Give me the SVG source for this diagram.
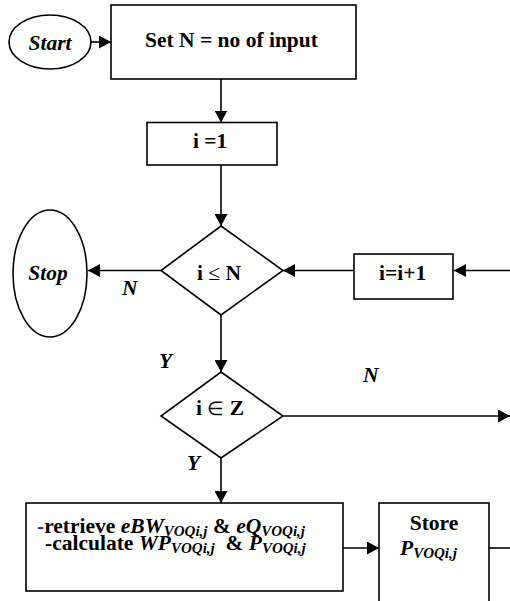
<svg xmlns="http://www.w3.org/2000/svg" width="510" height="601" viewBox="0 0 510 601">
  <style>
    .shape { fill: #ffffff; stroke: #000000; stroke-width: 1.6; }
    .edge { fill: none; stroke: #000000; stroke-width: 1.6; }
    text { font-family: "Liberation Serif", "Times New Roman", serif; font-weight: bold; font-size: 21.5px; fill: #000000; white-space: pre; }
    .it { font-style: italic; }
    .sub { font-style: italic; font-size: 15px; }
    .sym { font-weight: normal; }
    .small { font-size: 19px; }
  </style>
  <defs>
    <marker id="arrow" markerUnits="userSpaceOnUse" markerWidth="13" markerHeight="13" refX="12" refY="6.5" orient="auto">
      <path d="M0,0 L12,6.5 L0,13 z" fill="#000000"/>
    </marker>
  </defs>

  <rect width="510" height="601" fill="#ffffff"/>

  <!-- connectors and their branch labels -->
  <g id="connectors">
    <line class="edge" x1="91" y1="42" x2="111" y2="42" marker-end="url(#arrow)"/>
    <line class="edge" x1="221" y1="79" x2="221" y2="122.5" marker-end="url(#arrow)"/>
    <line class="edge" x1="221" y1="165" x2="221" y2="226" marker-end="url(#arrow)"/>
    <line class="edge" x1="161" y1="270.5" x2="88" y2="270.5" marker-end="url(#arrow)"/>
    <line class="edge" x1="354" y1="270.5" x2="283" y2="270.5" marker-end="url(#arrow)"/>
    <line class="edge" x1="512" y1="270.5" x2="454" y2="270.5" marker-end="url(#arrow)"/>
    <line class="edge" x1="221" y1="315" x2="221" y2="372" marker-end="url(#arrow)"/>
    <line class="edge" x1="283" y1="416" x2="510" y2="416" marker-end="url(#arrow)"/>
    <line class="edge" x1="221" y1="458" x2="221" y2="503" marker-end="url(#arrow)"/>
    <line class="edge" x1="343" y1="548" x2="379" y2="548" marker-end="url(#arrow)"/>
    <line class="edge" x1="489" y1="548" x2="512" y2="548"/>
    <text class="it" x="122" y="295">N</text>
    <text class="it" x="159" y="368">Y</text>
    <text class="it" x="363" y="382">N</text>
    <text class="it" x="187" y="470">Y</text>
  </g>

  <g id="start">
    <ellipse class="shape" cx="50" cy="42" rx="41" ry="27"/>
    <text class="it" x="50" y="50" text-anchor="middle">Start</text>
  </g>

  <g id="set-n">
    <rect class="shape" x="111" y="5" width="245" height="74"/>
    <text x="145" y="47">Set N = no of input</text>
  </g>

  <g id="init-i">
    <rect class="shape" x="147" y="122.5" width="130" height="42.5"/>
    <text x="193" y="148">i =1</text>
  </g>

  <g id="check-n">
    <polygon class="shape" points="221,226 283,270.5 221,315 161,270.5"/>
    <text x="197" y="280">i <tspan class="sym">≤</tspan> N</text>
  </g>

  <g id="stop">
    <ellipse class="shape" cx="50" cy="273.5" rx="37" ry="63.5"/>
    <text class="it" x="48" y="280" text-anchor="middle">Stop</text>
  </g>

  <g id="increment">
    <rect class="shape" x="354" y="254" width="99" height="45"/>
    <text x="379" y="280">i=i+1</text>
  </g>

  <g id="check-z">
    <polygon class="shape" points="221,372 283,416 221,458 161,416"/>
    <text x="196" y="415">i <tspan class="sym small">∈</tspan> Z</text>
  </g>

  <g id="compute">
    <rect class="shape" x="26" y="503" width="317" height="88"/>
    <text x="37" y="533"><tspan fill="#2b2b8c">-</tspan>retrieve <tspan class="it">eBW</tspan><tspan class="sub" dy="3">VOQi,j</tspan><tspan dy="-3"> &amp; </tspan><tspan class="it">eQ</tspan><tspan class="sub" dy="3">VOQi,j</tspan></text>
    <text x="45" y="550">-calculate <tspan class="it">WP</tspan><tspan class="sub" dy="3">VOQi,j</tspan><tspan dy="-3">  &amp; </tspan><tspan class="it">P</tspan><tspan class="sub" dy="3">VOQi,j</tspan></text>
  </g>

  <g id="store">
    <rect class="shape" x="379" y="503" width="110" height="105"/>
    <text x="434" y="530" text-anchor="middle">Store</text>
    <text x="400" y="555"><tspan class="it">P</tspan><tspan class="sub" dy="3">VOQi,j</tspan></text>
  </g>
</svg>
